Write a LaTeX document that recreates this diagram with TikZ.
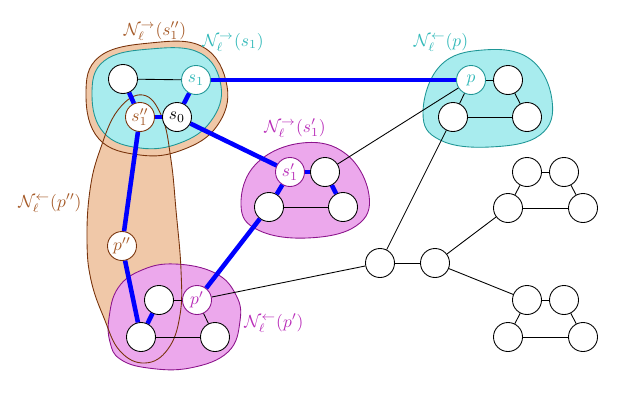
\documentclass[tikz,border=0pt]{standalone}
\usepackage{amsmath}
\usepackage{amssymb}
\usetikzlibrary{positioning, calc}
\definecolor{blobcyan}{RGB}{168,236,238}
\definecolor{linecyan}{RGB}{30,150,150}
\definecolor{txtcyan}{RGB}{50,185,185}
\definecolor{blobmag}{RGB}{236,168,236}
\definecolor{linemag}{RGB}{140,20,140}
\definecolor{txtmag}{RGB}{185,45,185}
\definecolor{bloborange}{RGB}{240,200,168}
\definecolor{linebrown}{RGB}{120,50,10}
\definecolor{txtbrown}{RGB}{165,90,40}
\tikzset{
  vertex/.style={circle, draw=black, fill=white, line width=0.5pt, minimum size=16.6pt, inner sep=0pt},
  cyanvertex/.style={vertex, draw=linecyan, text=txtcyan},
  magvertex/.style={vertex, draw=linemag, text=txtmag},
  brownvertex/.style={vertex, draw=linebrown, text=txtbrown},
  pathedge/.style={blue, line width=2.6pt},
  plainedge/.style={black, line width=0.5pt},
  cyanblob/.style={fill=blobcyan, draw=linecyan, line width=0.5pt},
  magblob/.style={fill=blobmag, draw=linemag, line width=0.5pt},
  orangeblob/.style={fill=bloborange, draw=linebrown, line width=0.5pt}
}
\def\longblob{(143,95) (162,117) (171,160) (176,210) (181,270) (180,315) (168,349) (145,363) (120,351) (104,318) (91,280) (87,240) (90,190) (100,150) (118,110)}
\begin{document}
\begin{tikzpicture}[x=0.572pt, y=-0.572pt]
    \useasboundingbox (0,0) rectangle (619,393);

    % Bereiche (Nachbarschaften)
    \fill[bloborange] plot[smooth cycle, tension=0.7] coordinates {\longblob};
    \draw[orangeblob] plot[smooth cycle, tension=0.7] coordinates {(86,95) (99,57) (150,43) (203,47) (227,86) (217,126) (182,150) (140,155) (99,139)};
    \draw[cyanblob] plot[smooth cycle, tension=0.7] coordinates {(92,95) (104,61) (150,49) (200,53) (221,86) (211,121) (180,143) (140,148) (104,133)};
    \draw[cyanblob] plot[smooth cycle, tension=0.7] coordinates {(423,113) (440,66) (483,50) (530,59) (552,100) (540,135) (490,147) (440,140)};
    \draw[magblob] plot[smooth cycle, tension=0.7] coordinates {(241,205) (256,164) (302,143) (346,154) (369,195) (356,226) (307,238) (258,230)};
    \draw[magblob] plot[smooth cycle, tension=0.7] coordinates {(109,318) (118,288) (142,270) (175,264) (215,273) (236,295) (240,321) (228,352) (190,368) (148,368) (120,359) (110,342)};
    \draw[linebrown, line width=0.5pt] plot[smooth cycle, tension=0.7] coordinates {\longblob};

    % Knoten
    \node[vertex] (a1) at (123,79) {};
    \node[cyanvertex] (s1) at (196,80) {$s_1$};
    \node[brownvertex] (s1pp) at (140,117) {$s_1''$};
    \node[vertex] (s0) at (177,117) {$s_0$};

    \node[magvertex] (s1p) at (290,172) {$s_1'$};
    \node[vertex] (b2) at (325,172) {};
    \node[vertex] (b3) at (269,207) {};
    \node[vertex] (b4) at (343,207) {};

    \node[cyanvertex] (p) at (471,80) {$p$};
    \node[vertex] (c2) at (508,80) {};
    \node[vertex] (c3) at (453,117) {};
    \node[vertex] (c4) at (527,117) {};

    \node[brownvertex] (ppp) at (122,246) {$p''$};

    \node[vertex] (d1) at (159,300) {};
    \node[magvertex] (pp) at (197,300) {$p'$};
    \node[vertex] (d3) at (141,337) {};
    \node[vertex] (d4) at (215,337) {};

    \node[vertex] (m1) at (380,263) {};
    \node[vertex] (m2) at (435,263) {};

    \node[vertex] (e1) at (527,172) {};
    \node[vertex] (e2) at (564,172) {};
    \node[vertex] (e3) at (508,208) {};
    \node[vertex] (e4) at (583,208) {};

    \node[vertex] (f1) at (527,300) {};
    \node[vertex] (f2) at (564,300) {};
    \node[vertex] (f3) at (508,337) {};
    \node[vertex] (f4) at (583,337) {};

    % duenne Kanten
    \draw[plainedge] (a1) -- (s1);
    \draw[plainedge] (b3) -- (b4);
    \draw[plainedge] (b2) -- (p);
    \draw[plainedge] (p) -- (c2);
    \draw[plainedge] (p) -- (c3);
    \draw[plainedge] (c2) -- (c4);
    \draw[plainedge] (c3) -- (c4);
    \draw[plainedge] (c3) -- (m1);
    \draw[plainedge] (m1) -- (m2);
    \draw[plainedge] (m1) -- (pp);
    \draw[plainedge] (m2) -- (e3);
    \draw[plainedge] (m2) -- (f1);
    \draw[plainedge] (d1) -- (pp);
    \draw[plainedge] (pp) -- (d4);
    \draw[plainedge] (d3) -- (d4);
    \foreach \g in {e,f} {
        \draw[plainedge] (\g1) -- (\g2);
        \draw[plainedge] (\g1) -- (\g3);
        \draw[plainedge] (\g2) -- (\g4);
        \draw[plainedge] (\g3) -- (\g4);
    }

    % blaue Pfade
    \draw[pathedge] (a1) -- (s1pp);
    \draw[pathedge] (s1pp) -- (s0);
    \draw[pathedge] (s0) -- (s1);
    \draw[pathedge] (s1) -- (p);
    \draw[pathedge] (s0) -- (s1p);
    \draw[pathedge] (s1p) -- (b2);
    \draw[pathedge] (b2) -- (b4);
    \draw[pathedge] (s1p) -- (b3);
    \draw[pathedge] (b3) -- (pp);
    \draw[pathedge] (s1pp) -- (ppp);
    \draw[pathedge] (ppp) -- (d3);
    \draw[pathedge] (d1) -- (d3);

    % Beschriftungen
    \node[text=txtbrown] (lbls1pp) at (155,31) {$\mathcal{N}_\ell^{\to}(s_1'')$};
    \node[text=txtcyan] (lbls1) at (233,42) {$\mathcal{N}_\ell^{\to}(s_1)$};
    \node[text=txtcyan] (lblp) at (441,42) {$\mathcal{N}_\ell^{\leftarrow}(p)$};
    \node[text=txtmag] (lbls1p) at (295,128) {$\mathcal{N}_\ell^{\to}(s_1')$};
    \node[text=txtbrown] (lblppp) at (50,203) {$\mathcal{N}_\ell^{\leftarrow}(p'')$};
    \node[text=txtmag] (lblpp) at (274,323) {$\mathcal{N}_\ell^{\leftarrow}(p')$};
\end{tikzpicture}
\end{document}
